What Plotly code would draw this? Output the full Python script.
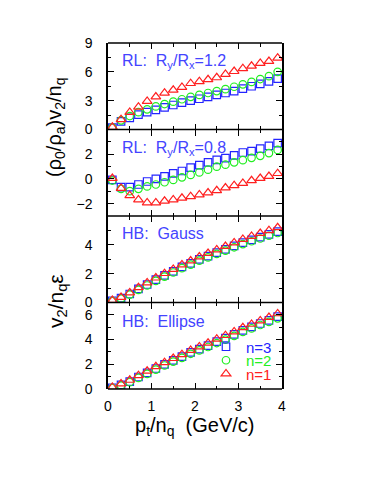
import plotly.graph_objects as go

# ---------------- data ----------------
pt_nq = [0.1, 0.3, 0.5, 0.7, 0.9, 1.1, 1.3, 1.5, 1.7, 1.9,
         2.1, 2.3, 2.5, 2.7, 2.9, 3.1, 3.3, 3.5, 3.7, 3.9]

# Panel 1: RL Ry/Rx = 1.2
rl12_n3 = [0.2, 0.85, 1.2, 1.55, 1.8, 2.05, 2.3, 2.55, 2.8, 3.0,
           3.2, 3.4, 3.6, 3.8, 4.0, 4.25, 4.5, 4.75, 5.0, 5.3]
rl12_n2 = [0.2, 0.95, 1.4, 1.8, 2.1, 2.4, 2.65, 2.9, 3.15, 3.4,
           3.6, 3.8, 4.0, 4.2, 4.45, 4.7, 4.95, 5.25, 5.55, 6.0]
rl12_n1 = [0.25, 1.05, 1.8, 2.35, 2.95, 3.4, 3.8, 4.1, 4.4, 4.8,
           5.0, 5.2, 5.4, 5.75, 6.05, 6.35, 6.6, 6.9, 7.1, 7.45]

# Panel 2: RL Ry/Rx = 0.8
rl08_n3 = [-0.08, -0.67, -0.67, -0.45, -0.21, 0.0, 0.21, 0.45, 0.64, 0.91,
           1.12, 1.34, 1.55, 1.68, 1.9, 2.14, 2.25, 2.46, 2.67, 2.89]
rl08_n2 = [-0.13, -0.8, -0.99, -0.8, -0.61, -0.45, -0.27, -0.08, 0.13, 0.32,
           0.53, 0.75, 0.99, 1.15, 1.34, 1.52, 1.71, 1.87, 2.09, 2.35]
rl08_n1 = [0.05, -0.75, -1.34, -1.68, -1.92, -1.92, -1.79, -1.68, -1.55, -1.42,
           -1.28, -1.12, -0.94, -0.72, -0.53, -0.35, -0.13, 0.05, 0.21, 0.45]

# Panel 3: HB Gauss
hbg_n3 = [0.12, 0.3, 0.59, 0.94, 1.25, 1.58, 1.88, 2.16, 2.47, 2.72,
          2.99, 3.22, 3.46, 3.69, 3.93, 4.16, 4.35, 4.54, 4.73, 4.92]
hbg_n2 = [0.1, 0.27, 0.55, 0.88, 1.18, 1.5, 1.8, 2.08, 2.38, 2.63,
          2.9, 3.13, 3.37, 3.6, 3.83, 4.05, 4.25, 4.44, 4.63, 4.82]
hbg_n1 = [0.15, 0.36, 0.68, 1.04, 1.37, 1.71, 2.02, 2.31, 2.62, 2.89,
          3.17, 3.41, 3.66, 3.9, 4.15, 4.39, 4.6, 4.8, 5.0, 5.2]

# Panel 4: HB Ellipse
hbe_n3 = [0.1, 0.33, 0.6, 0.97, 1.3, 1.66, 1.99, 2.32, 2.62, 2.96,
          3.23, 3.51, 3.84, 4.12, 4.42, 4.75, 5.03, 5.3, 5.55, 5.85]
hbe_n2 = [0.08, 0.28, 0.55, 0.9, 1.22, 1.57, 1.9, 2.22, 2.52, 2.85,
          3.12, 3.4, 3.72, 4.0, 4.3, 4.62, 4.9, 5.18, 5.43, 5.72]
hbe_n1 = [0.15, 0.42, 0.72, 1.1, 1.45, 1.82, 2.15, 2.48, 2.8, 3.14,
          3.42, 3.72, 4.05, 4.34, 4.64, 4.97, 5.25, 5.53, 5.8, 6.1]

panel_labels = ["RL:  R<sub>y</sub>/R<sub>x</sub>=1.2",
                "RL:  R<sub>y</sub>/R<sub>x</sub>=0.8",
                "HB:  Gauss",
                "HB:  Ellipse"]
series_names = ["n=3", "n=2", "n=1"]
x_ticks = [0, 1, 2, 3, 4]

# ---------------- layout helpers ----------------
# The page body has an 8px margin, so the figure is 8px smaller than the window.
W, H = 366, 476
L, T = 100, 35
PW, PH = 174, 346
R, B = W - L - PW, H - T - PH
LW = 1.5
PLOT_LEFT, PLOT_BOTTOM = 108, 389  # in window pixels

def px_x(p):
    return (p - PLOT_LEFT) / PW

def px_y(p):
    return (PLOT_BOTTOM - p) / PH

BLUE = "#2424ff"
GREEN = "#22ee22"
RED = "#ff2020"
TXT_BLUE = "#4444ff"
FONT = "Liberation Sans"

styles = [
    dict(symbol="square-open", color=BLUE, size=7.5),
    dict(symbol="circle-open", color=GREEN, size=7.5),
    dict(symbol="triangle-up-open", color=RED, size=8.5),
]

panels = [
    (rl12_n3, rl12_n2, rl12_n1),
    (rl08_n3, rl08_n2, rl08_n1),
    (hbg_n3, hbg_n2, hbg_n1),
    (hbe_n3, hbe_n2, hbe_n1),
]

y_ranges = [[0, 9], [-3, 4], [0, 6], [0, 7]]
y_major = [[0, 3, 6, 9], [-2, 0, 2], [0, 2, 4], [0, 2, 4, 6]]
y_minor = [1.5, 1, 1, 1]
edges = [43, 129.5, 216, 302.5, 389]
domains = [[px_y(edges[k + 1]), px_y(edges[k])] for k in range(4)]

fig = go.Figure()
legend_ids = ["legend", "legend2", "legend3"]

for k, series in enumerate(panels):
    ax = "" if k == 0 else str(k + 1)
    for s, (vals, st) in enumerate(zip(series, styles)):
        fig.add_trace(go.Scatter(
            x=pt_nq, y=vals, mode="markers",
            name=series_names[s],
            marker=dict(symbol=st["symbol"], size=st["size"], color=st["color"],
                        line=dict(color=st["color"], width=1.2)),
            xaxis="x" + ax, yaxis="y" + ax,
            showlegend=(k == 3),
            legend=legend_ids[s],
        ))

layout = dict(
    width=W, height=H,
    margin=dict(l=L, r=R, t=T, b=B, pad=0),
    paper_bgcolor="white", plot_bgcolor="white",
    font=dict(family=FONT, size=14, color="black"),
)

for k in range(4):
    ax = "" if k == 0 else str(k + 1)
    layout["xaxis" + ax] = dict(
        domain=[0, 1], anchor="y" + ax, range=[0, 4],
        tickmode="array", tickvals=x_ticks,
        ticktext=[str(v) for v in x_ticks],
        showticklabels=(k == 3),
        ticks="inside", ticklen=6, tickwidth=1.2, tickcolor="black",
        minor=dict(dtick=0.5, tick0=0, ticks="inside", ticklen=3.5, tickwidth=1, tickcolor="black"),
        showline=False, mirror="ticks",
        showgrid=False, zeroline=False,
        tickfont=dict(size=14, family=FONT),
        ticklabelstandoff=7,
    )
    layout["yaxis" + ax] = dict(
        domain=domains[k], anchor="x" + ax, range=y_ranges[k],
        tickmode="array", tickvals=y_major[k],
        ticktext=[str(v).replace("-", "\u2212") for v in y_major[k]],
        ticks="inside", ticklen=6, tickwidth=1.2, tickcolor="black",
        minor=dict(dtick=y_minor[k], tick0=0, ticks="inside", ticklen=3.5, tickwidth=1, tickcolor="black"),
        showline=True, linewidth=LW, linecolor="black", mirror="ticks",
        showgrid=False, zeroline=False,
        tickfont=dict(size=14, family=FONT),
        ticklabelstandoff=11,
    )

# legends inside bottom panel
legend_rows = [347, 360.5, 374]
legend_colors = [BLUE, GREEN, RED]
for lid, yrow, col in zip(legend_ids, legend_rows, legend_colors):
    layout[lid] = dict(
        x=px_x(206), y=px_y(yrow), xanchor="left", yanchor="middle",
        xref="paper", yref="paper",
        bgcolor="rgba(0,0,0,0)", borderwidth=0,
        font=dict(family=FONT, size=15, color=col),
        itemwidth=30, tracegroupgap=0,
    )

# horizontal frame lines (top, panel separators, bottom)
layout["shapes"] = [
    dict(type="line", xref="paper", yref="paper", x0=0, x1=1,
         y0=px_y(e), y1=px_y(e), line=dict(color="black", width=LW), layer="above")
    for e in edges
]

fig.update_layout(**layout)

annotations = []
label_y = [62, 148, 233, 321]
for txt, yp in zip(panel_labels, label_y):
    annotations.append(dict(
        text=txt, x=px_x(120), y=px_y(yp), xref="paper", yref="paper",
        xanchor="left", yanchor="middle", showarrow=False,
        font=dict(family=FONT, size=16, color=TXT_BLUE),
    ))

annotations.append(dict(
    text="(\u03c1<sub>0</sub>/\u03c1<sub>a</sub>)v<sub>2</sub>/n<sub>q</sub>",
    x=px_x(55), y=px_y(127), xref="paper", yref="paper",
    xanchor="center", yanchor="middle", textangle=-90, showarrow=False,
    font=dict(family=FONT, size=20, color="black"),
))
annotations.append(dict(
    text="v<sub>2</sub>/n<sub>q</sub>\u03b5",
    x=px_x(57), y=px_y(301), xref="paper", yref="paper",
    xanchor="center", yanchor="middle", textangle=-90, showarrow=False,
    font=dict(family=FONT, size=21, color="black"),
))
annotations.append(dict(
    text="p<sub>t</sub>/n<sub>q</sub>  (GeV/c)",
    x=px_x(195), y=px_y(427), xref="paper", yref="paper",
    xanchor="center", yanchor="middle", showarrow=False,
    font=dict(family=FONT, size=20, color="black"),
))
fig.update_layout(annotations=annotations)

fig.write_html("out.html")
